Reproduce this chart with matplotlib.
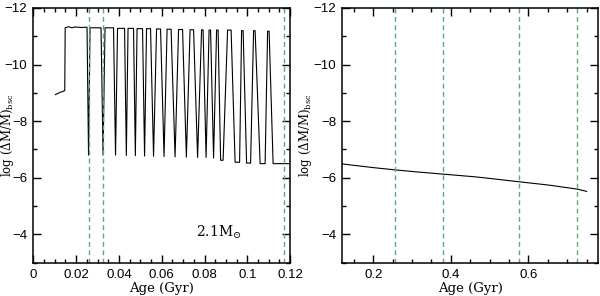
import matplotlib
matplotlib.use('Agg')
import matplotlib.pyplot as plt
from matplotlib.ticker import MultipleLocator, FuncFormatter

# ---- left panel: pulse tops / bottoms (age in Gyr, log dM/M) ----
pre_age = [0.0103, 0.0115, 0.0125, 0.0138, 0.0147]
pre_val = [-8.94, -8.98, -9.02, -9.05, -9.08]

plat_age = [0.0149, 0.0165, 0.0180, 0.0195, 0.0210, 0.0225, 0.0240]
plat_val = [-11.30, -11.34, -11.30, -11.33, -11.32, -11.31, -11.32]

top_start = [0.0240, 0.02651, 0.03352, 0.03936, 0.04427, 0.04848, 0.05292,
             0.05760, 0.06251, 0.06788, 0.07326, 0.07864, 0.08214, 0.08565,
             0.09079, 0.09733, 0.10294, 0.10949]
top_end = [0.02511, 0.03165, 0.03749, 0.04264, 0.04684, 0.05105, 0.05479,
           0.05947, 0.06438, 0.06975, 0.07490, 0.07934, 0.08284, 0.08635,
           0.09243, 0.09804, 0.10365, 0.11019]
top_val = [-11.32, -11.30, -11.30, -11.28, -11.28, -11.27, -11.27, -11.26,
           -11.25, -11.24, -11.23, -11.23, -11.22, -11.22, -11.22, -11.20,
           -11.20, -11.18]

bot_start = [0.02581, 0.03259, 0.03843, 0.04348, 0.04769, 0.05199, 0.05619,
             0.06110, 0.06625, 0.07153, 0.07677, 0.08074, 0.08424, 0.08752,
             0.09430, 0.09967, 0.10599, 0.11206]
bot_end = [0.02581, 0.03259, 0.03843, 0.04348, 0.04769, 0.05199, 0.05619,
           0.06110, 0.06625, 0.07153, 0.07677, 0.08074, 0.08424, 0.08869,
           0.09640, 0.10154, 0.10832, 0.1199]
bot_val = [-6.80, -6.80, -6.80, -6.79, -6.78, -6.77, -6.76, -6.75, -6.74,
           -6.73, -6.72, -6.72, -6.70, -6.62, -6.55, -6.52, -6.50, -6.50]

# ---- right panel ----
age_r = [0.12, 0.15, 0.20, 0.256, 0.31, 0.38, 0.466, 0.576, 0.654, 0.726, 0.75]
val_r = [-6.49, -6.44, -6.36, -6.28, -6.21, -6.13, -6.03, -5.86, -5.74, -5.60, -5.52]

vlines_left = [0.0258, 0.0327, 0.1172]
vlines_right = [0.2556, 0.381, 0.576, 0.726]

GREEN = '#55b070'

# build left curve path
age_l = pre_age + plat_age
val_l = pre_val + plat_val
for i in range(len(top_start)):
    age_l += [top_start[i], top_end[i], bot_start[i], bot_end[i]]
    val_l += [top_val[i], top_val[i], bot_val[i], bot_val[i]]

plt.rcParams['font.family'] = ['DejaVu Serif']
plt.rcParams['mathtext.fontset'] = 'dejavuserif'

fig = plt.figure(figsize=(6.0, 2.96), dpi=100)
ax1 = fig.add_axes([0.0555, 0.1125, 0.428, 0.8605])
ax2 = fig.add_axes([0.5705, 0.1125, 0.4265, 0.8605])

fmt = FuncFormatter(lambda v, p: '%g' % v if abs(v) > 1e-9 else '0')

def style(ax, major, minor):
    ax.set_ylim(-3, -12)
    ax.xaxis.set_major_locator(MultipleLocator(major))
    ax.xaxis.set_minor_locator(MultipleLocator(minor))
    ax.yaxis.set_major_locator(MultipleLocator(2))
    ax.yaxis.set_minor_locator(MultipleLocator(1))
    ax.xaxis.set_major_formatter(fmt)
    ax.tick_params(which='both', direction='in', top=True, right=True,
                   width=1.0, labelsize=9.5, pad=4.5)
    ax.tick_params(which='major', length=5.5)
    ax.tick_params(which='minor', length=3)
    for lab in ax.get_xticklabels() + ax.get_yticklabels():
        lab.set_family('Liberation Sans')
    for s in ax.spines.values():
        s.set_linewidth(1.1)
    ax.set_xlabel('Age (Gyr)', fontsize=9.5, labelpad=1)
    ax.set_ylabel(r'log (ΔM/M)$_{\rm bsc}$', fontsize=8.5)

ax1.plot(age_l, val_l, color='black', lw=0.8)
for v in vlines_left:
    ax1.axvline(v, color=GREEN, lw=1.0, ls=(0, (3.5, 2.5)))
ax1.set_xlim(0, 0.12)
style(ax1, 0.02, 0.005)
ax1.yaxis.set_label_coords(-0.068, 0.5)
ax1.text(0.0868, -4.07, r'2.1M$_{\odot}$', fontsize=10, ha='center', va='center')

ax2.plot(age_r, val_r, color='black', lw=0.8)
for v in vlines_right:
    ax2.axvline(v, color=GREEN, lw=1.0, ls=(0, (3.5, 2.5)))
ax2.set_xlim(0.12, 0.78)
style(ax2, 0.2, 0.05)
ax2.yaxis.set_label_coords(-0.11, 0.5)

fig.savefig('out.png', dpi=100)
